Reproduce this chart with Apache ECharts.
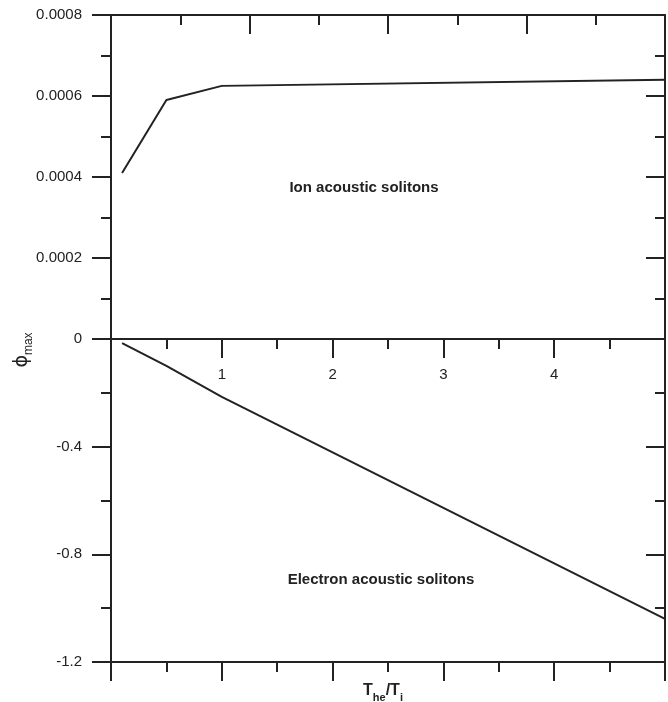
<!DOCTYPE html>
<html>
<head>
<meta charset="utf-8">
<script src="https://cdn.jsdelivr.net/npm/echarts@6/dist/echarts.min.js"></script>
<style>html,body{margin:0;padding:0;background:#fff;}#c{width:668px;height:702px;}</style>
</head>
<body>
<div id="c"></div>
<script>
// Data
const thetaIon = [0.1, 0.5, 1, 5];
const phiIon = [0.00041, 0.00059, 0.000625, 0.00064];
const thetaElectron = [0.1, 0.5, 1, 5];
const phiElectron = [-0.015, -0.10, -0.215, -1.04];
const xTickLabels = ['1', '2', '3', '4'];
const ionLabel = 'Ion acoustic solitons';
const electronLabel = 'Electron acoustic solitons';

const C = '#222';
const FONT = 'Liberation Sans, Arial, sans-serif';
const lineS = { color: C, width: 2 };

function valAxis(extra) {
  return Object.assign({
    type: 'value',
    axisLine: { show: true, onZero: false, lineStyle: lineS },
    axisTick: { show: true, length: 19, lineStyle: lineS },
    minorTick: { show: true, splitNumber: 2, length: 10, lineStyle: lineS },
    splitLine: { show: false },
    minorSplitLine: { show: false },
    axisLabel: { show: false }
  }, extra);
}

const chart = echarts.init(document.getElementById('c'), null, { renderer: 'canvas' });
chart.setOption({
  animation: false,
  backgroundColor: '#fff',
  grid: [
    { left: 111, right: 3, top: 15, height: 324 },
    { left: 111, right: 3, top: 339, height: 323 }
  ],
  xAxis: [
    valAxis({ gridIndex: 0, position: 'bottom', min: 0, max: 5, interval: 1,
      axisLabel: { show: true, margin: 28, color: C, fontSize: 15, fontFamily: FONT,
        formatter: v => { const s = String(v); return xTickLabels.indexOf(s) >= 0 ? s : ''; } } }),
    valAxis({ gridIndex: 0, position: 'top', min: 0, max: 4, interval: 1,
      axisTick: { show: true, inside: true, length: 19, lineStyle: lineS } }),
    valAxis({ gridIndex: 1, position: 'bottom', min: 0, max: 5, interval: 1 })
  ],
  yAxis: [
    valAxis({ gridIndex: 0, position: 'left', min: 0, max: 0.0008, interval: 0.0002,
      axisLabel: { show: true, margin: 29, color: C, fontSize: 15, fontFamily: FONT,
        formatter: v => v === 0 ? '0' : v.toFixed(4) } }),
    valAxis({ gridIndex: 0, position: 'right', min: 0, max: 0.0008, interval: 0.0002,
      axisTick: { show: true, inside: true, length: 19, lineStyle: lineS } }),
    valAxis({ gridIndex: 1, position: 'left', min: -1.2, max: 0, interval: 0.4,
      axisLabel: { show: true, margin: 29, color: C, fontSize: 15, fontFamily: FONT,
        formatter: v => Math.abs(v) < 1e-9 ? '' : v.toFixed(1) } }),
    valAxis({ gridIndex: 1, position: 'right', min: -1.2, max: 0, interval: 0.4,
      axisTick: { show: true, inside: true, length: 19, lineStyle: lineS } })
  ],
  series: [
    { type: 'line', xAxisIndex: 0, yAxisIndex: 0, symbol: 'none',
      lineStyle: { color: C, width: 2 },
      data: thetaIon.map((t, i) => [t, phiIon[i]]) },
    { type: 'line', xAxisIndex: 2, yAxisIndex: 2, symbol: 'none',
      lineStyle: { color: C, width: 2 },
      data: thetaElectron.map((t, i) => [t, phiElectron[i]]) }
  ],
  graphic: [
    { type: 'text', x: 364, y: 188,
      style: { text: ionLabel, align: 'center', verticalAlign: 'middle',
        fill: C, font: 'bold 15px ' + FONT } },
    { type: 'text', x: 381, y: 580,
      style: { text: electronLabel, align: 'center', verticalAlign: 'middle',
        fill: C, font: 'bold 15px ' + FONT } },
    { type: 'text', x: 22, y: 350, rotation: Math.PI / 2,
      style: { text: '{a|ϕ}{b|max}', align: 'center', verticalAlign: 'middle', fill: C,
        rich: {
          a: { fontSize: 19, fontFamily: 'DejaVu Sans', fill: C, color: C, verticalAlign: 'bottom', lineHeight: 20 },
          b: { fontSize: 12, fontFamily: FONT, fill: C, color: C, verticalAlign: 'bottom', padding: [0, 0, -3, 0] }
        } } },
    { type: 'text', x: 383, y: 690,
      style: { text: '{a|T}{b|he}{a|/T}{b|i}', align: 'center', verticalAlign: 'middle', fill: C,
        rich: {
          a: { fontSize: 16, fontWeight: 'bold', fontFamily: FONT, fill: C, color: C, verticalAlign: 'bottom', lineHeight: 18 },
          b: { fontSize: 11, fontWeight: 'bold', fontFamily: FONT, fill: C, color: C, verticalAlign: 'bottom', padding: [0, 0, -4, 0] }
        } } }
  ]
});
</script>
</body>
</html>
